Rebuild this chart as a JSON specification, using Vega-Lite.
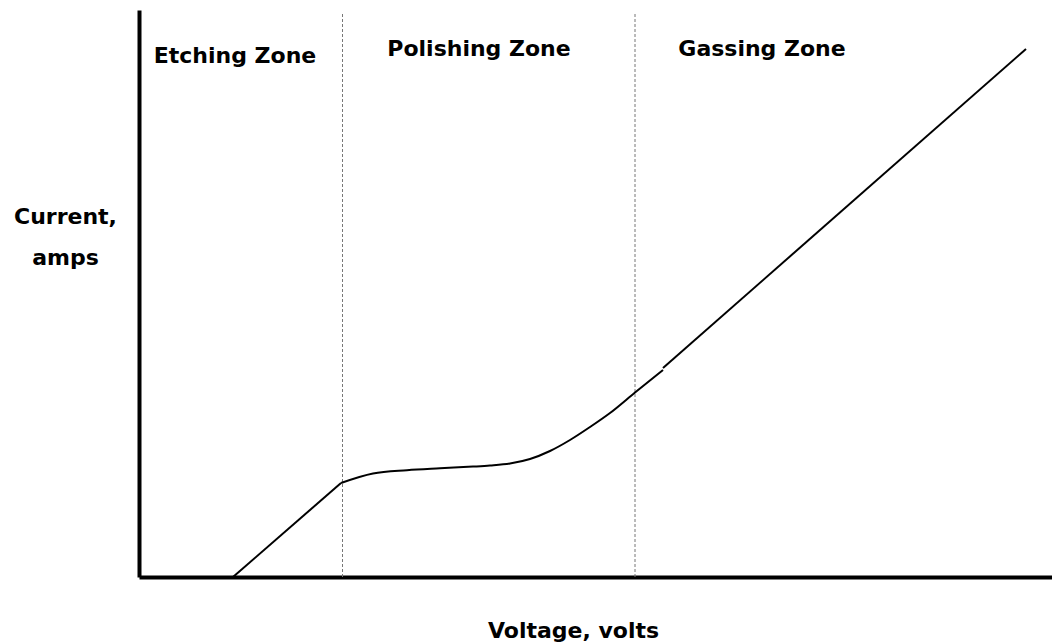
{
  "$schema": "https://vega.github.io/schema/vega-lite/v6.json",
  "autosize": "none",
  "width": 913,
  "height": 567,
  "padding": {"left": 139, "top": 10, "right": 0, "bottom": 67},
  "background": "white",
  "config": {
    "view": {"stroke": null},
    "font": "DejaVu Sans"
  },
  "datasets": {
    "straight": [
      {"seg": "a", "v": 94, "i": 0},
      {"seg": "a", "v": 202, "i": 94},
      {"seg": "c", "v": 524, "i": 209},
      {"seg": "c", "v": 887, "i": 528}
    ],
    "curve": [
      {"v": 202, "i": 94},
      {"v": 234, "i": 103.5},
      {"v": 268, "i": 106.8},
      {"v": 301, "i": 108.7},
      {"v": 334, "i": 110.4},
      {"v": 351, "i": 111.5},
      {"v": 371, "i": 113.5},
      {"v": 391, "i": 118},
      {"v": 411, "i": 126},
      {"v": 431, "i": 137},
      {"v": 451, "i": 150},
      {"v": 471, "i": 164},
      {"v": 496, "i": 184.5},
      {"v": 524, "i": 207}
    ],
    "zones": [
      {"v": 203.5, "bottom": 0, "top": 564},
      {"v": 496, "bottom": 0, "top": 564}
    ],
    "labels": [
      {"v": 96, "i": 514, "text": "Etching Zone"},
      {"v": 340, "i": 521, "text": "Polishing Zone"},
      {"v": 623, "i": 521, "text": "Gassing Zone"}
    ]
  },
  "layer": [
    {
      "data": {"name": "zones"},
      "mark": {"type": "rule", "color": "#777777", "strokeWidth": 1, "strokeDash": [3, 2]},
      "encoding": {
        "x": {
          "field": "v", "type": "quantitative",
          "scale": {"domain": [0, 913], "nice": false, "zero": false},
          "axis": {
            "orient": "bottom", "labels": false, "ticks": false, "grid": false,
            "domainColor": "black", "domainWidth": 4,
            "title": "Voltage, volts",
            "titleFont": "DejaVu Sans", "titleFontSize": 22, "titleFontWeight": "bold",
            "titleColor": "black", "titleX": 434, "titleY": 60,
            "titleBaseline": "alphabetic", "titleAlign": "center"
          }
        },
        "y": {"field": "bottom", "type": "quantitative",
          "scale": {"domain": [0, 567], "nice": false, "zero": false},
          "axis": {
            "orient": "left", "labels": false, "ticks": false, "grid": false,
            "domainColor": "black", "domainWidth": 4,
            "title": ["Current,", "amps"],
            "titleFont": "DejaVu Sans", "titleFontSize": 22, "titleFontWeight": "bold",
            "titleColor": "black", "titleAngle": 0, "titleX": -74, "titleY": 213,
            "titleBaseline": "alphabetic", "titleAlign": "center",
            "titleLineHeight": 41
          }
        },
        "y2": {"field": "top"}
      }
    },
    {
      "data": {"name": "straight"},
      "mark": {"type": "line", "color": "black", "strokeWidth": 2},
      "encoding": {
        "x": {"field": "v", "type": "quantitative"},
        "y": {"field": "i", "type": "quantitative"},
        "detail": {"field": "seg"}
      }
    },
    {
      "data": {"name": "curve"},
      "mark": {"type": "line", "color": "black", "strokeWidth": 2, "interpolate": "monotone"},
      "encoding": {
        "x": {"field": "v", "type": "quantitative"},
        "y": {"field": "i", "type": "quantitative"}
      }
    },
    {
      "data": {"name": "labels"},
      "mark": {"type": "text", "font": "DejaVu Sans", "fontSize": 22, "fontWeight": "bold", "color": "black", "align": "center", "baseline": "alphabetic"},
      "encoding": {
        "x": {"field": "v", "type": "quantitative"},
        "y": {"field": "i", "type": "quantitative"},
        "text": {"field": "text"}
      }
    }
  ]
}
